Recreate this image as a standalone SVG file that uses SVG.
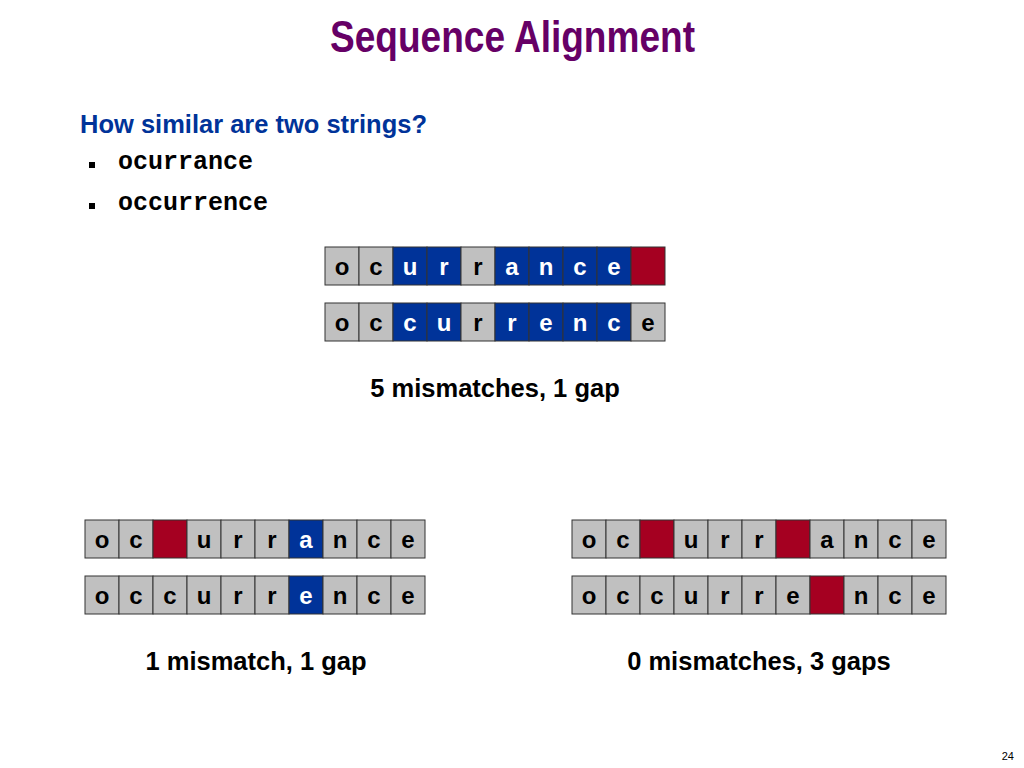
<svg xmlns="http://www.w3.org/2000/svg" width="1024" height="768" viewBox="0 0 1024 768">
<style>
.g{fill:#c0c0c0;stroke:#333;stroke-width:1}
.b{fill:#003399;stroke:#333;stroke-width:1}
.r{fill:#a50021;stroke:#333;stroke-width:1}
.t{font-family:"Liberation Sans",Arial,sans-serif;font-weight:bold;font-size:24px;text-anchor:middle}
.tk{fill:#000}
.tw{fill:#fff}
.cap{font-family:"Liberation Sans",Arial,sans-serif;font-weight:bold;font-size:25.5px;fill:#000;text-anchor:middle}
.mono{font-family:"Liberation Mono","Courier New",monospace;font-weight:bold;font-size:25px;fill:#000}
</style>
<rect width="1024" height="768" fill="#fff"/>
<g id="title">
<text x="330" y="52" font-family="Liberation Sans,Arial,sans-serif" font-weight="bold" font-size="44" fill="#660066" textLength="365" lengthAdjust="spacingAndGlyphs">Sequence Alignment</text>
</g>
<g id="question">
<text x="80" y="133" font-family="Liberation Sans,Arial,sans-serif" font-weight="bold" font-size="25.5" fill="#003399" textLength="347" lengthAdjust="spacingAndGlyphs">How similar are two strings?</text>
<rect x="89" y="162" width="6" height="6" fill="#000"/>
<text class="mono" x="118" y="169">ocurrance</text>
<rect x="89" y="203" width="6" height="6" fill="#000"/>
<text class="mono" x="118" y="210">occurrence</text>
</g>
<g id="top-row1">
<rect class="g" x="325" y="247" width="34" height="38"/><text class="t tk" x="342" y="275">o</text>
<rect class="g" x="359" y="247" width="34" height="38"/><text class="t tk" x="376" y="275">c</text>
<rect class="b" x="393" y="247" width="34" height="38"/><text class="t tw" x="410" y="275">u</text>
<rect class="b" x="427" y="247" width="34" height="38"/><text class="t tw" x="444" y="275">r</text>
<rect class="g" x="461" y="247" width="34" height="38"/><text class="t tk" x="478" y="275">r</text>
<rect class="b" x="495" y="247" width="34" height="38"/><text class="t tw" x="512" y="275">a</text>
<rect class="b" x="529" y="247" width="34" height="38"/><text class="t tw" x="546" y="275">n</text>
<rect class="b" x="563" y="247" width="34" height="38"/><text class="t tw" x="580" y="275">c</text>
<rect class="b" x="597" y="247" width="34" height="38"/><text class="t tw" x="614" y="275">e</text>
<rect class="r" x="631" y="247" width="34" height="38"/>
</g>
<g id="top-row2">
<rect class="g" x="325" y="303" width="34" height="38"/><text class="t tk" x="342" y="331">o</text>
<rect class="g" x="359" y="303" width="34" height="38"/><text class="t tk" x="376" y="331">c</text>
<rect class="b" x="393" y="303" width="34" height="38"/><text class="t tw" x="410" y="331">c</text>
<rect class="b" x="427" y="303" width="34" height="38"/><text class="t tw" x="444" y="331">u</text>
<rect class="g" x="461" y="303" width="34" height="38"/><text class="t tk" x="478" y="331">r</text>
<rect class="b" x="495" y="303" width="34" height="38"/><text class="t tw" x="512" y="331">r</text>
<rect class="b" x="529" y="303" width="34" height="38"/><text class="t tw" x="546" y="331">e</text>
<rect class="b" x="563" y="303" width="34" height="38"/><text class="t tw" x="580" y="331">n</text>
<rect class="b" x="597" y="303" width="34" height="38"/><text class="t tw" x="614" y="331">c</text>
<rect class="g" x="631" y="303" width="34" height="38"/><text class="t tk" x="648" y="331">e</text>
</g>
<g id="top-caption"><text class="cap" x="495" y="397">5 mismatches, 1 gap</text></g>
<g id="left-row1">
<rect class="g" x="85" y="520" width="34" height="38"/><text class="t tk" x="102" y="548">o</text>
<rect class="g" x="119" y="520" width="34" height="38"/><text class="t tk" x="136" y="548">c</text>
<rect class="r" x="153" y="520" width="34" height="38"/>
<rect class="g" x="187" y="520" width="34" height="38"/><text class="t tk" x="204" y="548">u</text>
<rect class="g" x="221" y="520" width="34" height="38"/><text class="t tk" x="238" y="548">r</text>
<rect class="g" x="255" y="520" width="34" height="38"/><text class="t tk" x="272" y="548">r</text>
<rect class="b" x="289" y="520" width="34" height="38"/><text class="t tw" x="306" y="548">a</text>
<rect class="g" x="323" y="520" width="34" height="38"/><text class="t tk" x="340" y="548">n</text>
<rect class="g" x="357" y="520" width="34" height="38"/><text class="t tk" x="374" y="548">c</text>
<rect class="g" x="391" y="520" width="34" height="38"/><text class="t tk" x="408" y="548">e</text>
</g>
<g id="left-row2">
<rect class="g" x="85" y="576" width="34" height="38"/><text class="t tk" x="102" y="604">o</text>
<rect class="g" x="119" y="576" width="34" height="38"/><text class="t tk" x="136" y="604">c</text>
<rect class="g" x="153" y="576" width="34" height="38"/><text class="t tk" x="170" y="604">c</text>
<rect class="g" x="187" y="576" width="34" height="38"/><text class="t tk" x="204" y="604">u</text>
<rect class="g" x="221" y="576" width="34" height="38"/><text class="t tk" x="238" y="604">r</text>
<rect class="g" x="255" y="576" width="34" height="38"/><text class="t tk" x="272" y="604">r</text>
<rect class="b" x="289" y="576" width="34" height="38"/><text class="t tw" x="306" y="604">e</text>
<rect class="g" x="323" y="576" width="34" height="38"/><text class="t tk" x="340" y="604">n</text>
<rect class="g" x="357" y="576" width="34" height="38"/><text class="t tk" x="374" y="604">c</text>
<rect class="g" x="391" y="576" width="34" height="38"/><text class="t tk" x="408" y="604">e</text>
</g>
<g id="left-caption"><text class="cap" x="256" y="670">1 mismatch, 1 gap</text></g>
<g id="right-row1">
<rect class="g" x="572" y="520" width="34" height="38"/><text class="t tk" x="589" y="548">o</text>
<rect class="g" x="606" y="520" width="34" height="38"/><text class="t tk" x="623" y="548">c</text>
<rect class="r" x="640" y="520" width="34" height="38"/>
<rect class="g" x="674" y="520" width="34" height="38"/><text class="t tk" x="691" y="548">u</text>
<rect class="g" x="708" y="520" width="34" height="38"/><text class="t tk" x="725" y="548">r</text>
<rect class="g" x="742" y="520" width="34" height="38"/><text class="t tk" x="759" y="548">r</text>
<rect class="r" x="776" y="520" width="34" height="38"/>
<rect class="g" x="810" y="520" width="34" height="38"/><text class="t tk" x="827" y="548">a</text>
<rect class="g" x="844" y="520" width="34" height="38"/><text class="t tk" x="861" y="548">n</text>
<rect class="g" x="878" y="520" width="34" height="38"/><text class="t tk" x="895" y="548">c</text>
<rect class="g" x="912" y="520" width="34" height="38"/><text class="t tk" x="929" y="548">e</text>
</g>
<g id="right-row2">
<rect class="g" x="572" y="576" width="34" height="38"/><text class="t tk" x="589" y="604">o</text>
<rect class="g" x="606" y="576" width="34" height="38"/><text class="t tk" x="623" y="604">c</text>
<rect class="g" x="640" y="576" width="34" height="38"/><text class="t tk" x="657" y="604">c</text>
<rect class="g" x="674" y="576" width="34" height="38"/><text class="t tk" x="691" y="604">u</text>
<rect class="g" x="708" y="576" width="34" height="38"/><text class="t tk" x="725" y="604">r</text>
<rect class="g" x="742" y="576" width="34" height="38"/><text class="t tk" x="759" y="604">r</text>
<rect class="g" x="776" y="576" width="34" height="38"/><text class="t tk" x="793" y="604">e</text>
<rect class="r" x="810" y="576" width="34" height="38"/>
<rect class="g" x="844" y="576" width="34" height="38"/><text class="t tk" x="861" y="604">n</text>
<rect class="g" x="878" y="576" width="34" height="38"/><text class="t tk" x="895" y="604">c</text>
<rect class="g" x="912" y="576" width="34" height="38"/><text class="t tk" x="929" y="604">e</text>
</g>
<g id="right-caption"><text class="cap" x="759" y="670">0 mismatches, 3 gaps</text></g>
<g id="connectors"></g>
<g id="page-number"><text x="1014" y="760" font-family="Liberation Sans,Arial,sans-serif" font-size="11" fill="#000" text-anchor="end">24</text></g>
</svg>
